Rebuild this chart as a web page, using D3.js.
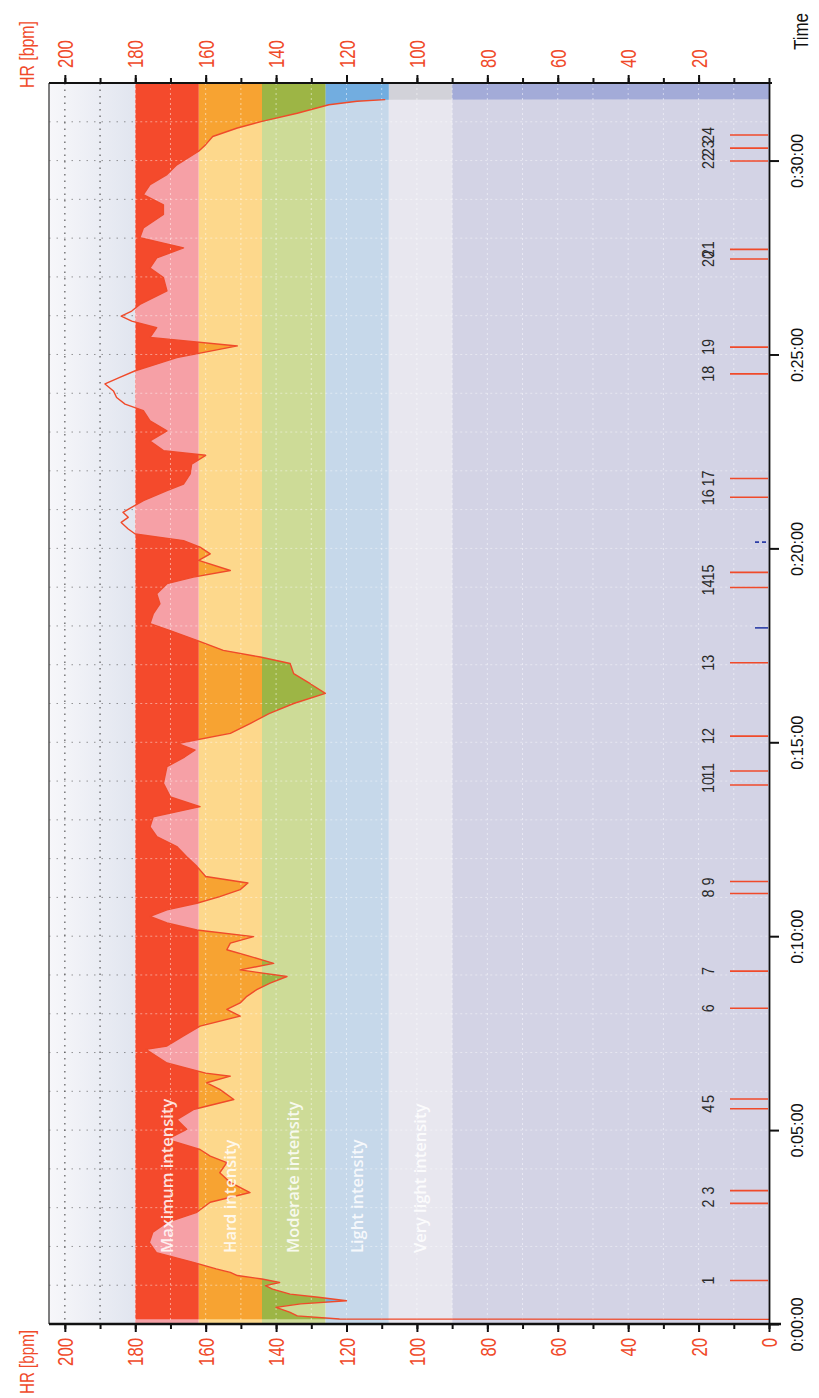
<!DOCTYPE html>
<html>
<head>
<meta charset="utf-8">
<script src="https://cdn.jsdelivr.net/npm/d3@7"></script>
<style>
    body { margin: 0; background: #ffffff; }
    .narrow { font-family: 'Liberation Sans', Arial, sans-serif; }
</style>
</head>
<body>
<div id="chart"></div>
<script>

// heart rate curve (minutes, bpm)
const hrTime = [0.12, 0.13, 0.21, 0.30, 0.43, 0.52, 0.60, 0.69, 0.77, 0.90, 0.99, 1.07, 1.16, 1.25, 1.33, 1.42,
    1.59, 1.84, 2.10, 2.37, 2.62, 2.88, 3.14, 3.39, 3.65, 3.90, 4.16, 4.33, 4.50, 4.76, 5.02, 5.27, 5.53, 5.79,
    6.05, 6.22, 6.39, 6.47, 6.73, 7.08, 7.17, 7.43, 7.68, 7.94, 8.11, 8.28, 8.45, 8.62, 8.79, 8.96, 9.13, 9.30,
    9.48, 9.65, 9.82, 9.99, 10.16, 10.34, 10.51, 10.68, 10.85, 11.02, 11.20, 11.37, 11.54, 11.80, 12.05, 12.31,
    12.57, 12.82, 13.08, 13.34, 13.59, 13.94, 14.37, 14.62, 14.80, 14.97, 15.23, 15.48, 15.74, 16.00, 16.26,
    16.51, 16.77, 17.03, 17.20, 17.37, 17.63, 17.88, 18.06, 18.31, 18.57, 18.83, 19.09, 19.26, 19.43, 19.69,
    19.86, 20.03, 20.20, 20.37, 20.50, 20.67, 20.80, 20.93, 21.23, 21.49, 21.66, 21.92, 22.17, 22.40, 22.52,
    22.77, 23.03, 23.29, 23.55, 23.72, 23.89, 24.06, 24.24, 24.41, 24.58, 24.75, 24.92, 25.22, 25.44, 25.69,
    25.86, 25.99, 26.12, 26.29, 26.64, 26.98, 27.23, 27.49, 27.75, 28.01, 28.26, 28.61, 28.86, 29.12, 29.38,
    29.64, 29.89, 30.24, 30.41, 30.62, 30.84, 31.01, 31.22, 31.44, 31.53, 31.57];
const hrValue = [0, 122, 134, 136, 140, 133, 120, 128, 136, 141, 143, 139, 144, 151, 153, 157,
    163.5, 174, 176, 175, 171, 162.5, 158.7, 147.4, 153, 156, 154, 158.7, 161.6, 171, 165.4, 168.2, 163.5, 152,
    156, 159.7, 153, 160, 171, 177, 171, 166.3, 161.6, 150.2, 154, 150.2, 148.3, 145.5, 141.7, 136.9, 150.2, 140.7,
    147.4, 154, 153, 146.4, 162.5, 171, 175.8, 171, 162.5, 156, 150.2, 148, 160, 162.5, 165.4, 168.2,
    173.9, 175.8, 174.9, 161.6, 170, 172, 171, 166, 163, 168, 153, 147.4, 142, 135, 126,
    130.3, 135, 136, 144.5, 155, 162.5, 170.1, 175.8, 174.9, 173, 173.9, 171, 163.5, 153, 162,
    158.7, 161.6, 166.3, 180, 182, 184, 182, 183.5, 177.7, 171, 166.3, 164.4, 164, 160, 172,
    175.8, 171, 175.8, 177.7, 182.9, 185.3, 186.2, 188.6, 184.4, 180, 174, 168.2, 151, 175.8, 173.9,
    181, 184, 181, 178.7, 171, 172, 175.8, 173.9, 166.3, 178.7, 177.7, 172, 172, 177.7, 175.8,
    171, 168.2, 162, 160, 158, 151, 144, 134, 125, 117, 109];

// recording stops here, nothing after it
const recordEnd = 31.58;

// heart rate zones (bpm), max HR 180
const zoneLow = [0, 90, 108, 126, 144, 162];
const zoneHigh = [90, 108, 126, 144, 162, 180];
const zoneNames = ["", "Very light intensity", "Light intensity", "Moderate intensity", "Hard intensity", "Maximum intensity"];

// laps (minutes)
const lapTimes = [1.12, 3.11, 3.44, 5.55, 5.80, 8.14, 9.10, 11.10, 11.41, 13.90, 14.26, 15.16,
    17.05, 18.99, 19.38, 21.32, 21.80, 24.50, 25.19, 27.46, 27.71, 29.99, 30.32, 30.66];
const lapLabels = lapTimes.map((d, i) => String(i + 1));

// blue marks near the time axis (minutes)
const markTimes = [17.95, 20.16];

// axis ticks
const hrMajor = d3.range(0, 201, 20);
const hrMinor = d3.range(0, 201, 10);
const timeTicks = [0, 5, 10, 15, 20, 25, 30];
const timeLabels = ["0:00:00", "0:05:00", "0:10:00", "0:15:00", "0:20:00", "0:25:00", "0:30:00"];

// colours
const paleColors = ["#d3d3e5", "#e8e7ef", "#c6d8ea", "#cddb97", "#fdd88c", "#f6a0a6"];
const fullColors = ["#a3abd8", "#d2d2d9", "#72ade0", "#9db545", "#f7a332", "#f44a2c"];
const red = "#f04a2a";

let width = 819, height = 1398;
let frame = {left: 49, right: 769, top: 83, bottom: 1324};

let svg = d3.select("#chart").append("svg")
    .attr("width", width)
    .attr("height", height);

// HR runs right to left, time runs bottom to top (page printed sideways)
let x = d3.scaleLinear().domain([0, 204.5]).range([frame.right, frame.left]);
let y = d3.scaleLinear().domain([0, 32]).range([frame.bottom, frame.top]);

let defs = svg.append("defs");
let grad = defs.append("linearGradient").attr("id", "whiteGrad")
    .attr("x1", "0").attr("x2", "1").attr("y1", "0").attr("y2", "0");
grad.append("stop").attr("offset", "0").attr("stop-color", "#f7f7fa");
grad.append("stop").attr("offset", "1").attr("stop-color", "#e1e5ef");

let hrData = hrTime.map((t, i) => ({t: t, hr: hrValue[i]}));
let areaData = hrData.concat([{t: recordEnd, hr: 0}, {t: 32, hr: 0}]);

let area = d3.area()
    .y(d => y(d.t))
    .x0(x(180))
    .x1(d => x(d.hr));

defs.append("clipPath").attr("id", "hrClip")
    .append("path").attr("d", area(areaData));
defs.append("clipPath").attr("id", "plotClip")
    .append("rect")
    .attr("x", frame.left).attr("y", frame.top)
    .attr("width", frame.right - frame.left).attr("height", frame.bottom - frame.top);

// area above max HR
svg.append("rect")
    .attr("x", frame.left).attr("y", frame.top)
    .attr("width", x(180) - frame.left).attr("height", frame.bottom - frame.top)
    .attr("fill", "url(#whiteGrad)");

let zones = zoneLow.map((lo, i) => ({lo: lo, hi: zoneHigh[i], name: zoneNames[i], pale: paleColors[i], full: fullColors[i]}));

// pale zone bands
svg.append("g").selectAll("rect")
    .data(zones)
    .enter().append("rect")
    .attr("x", d => x(d.hi))
    .attr("width", d => x(d.lo) - x(d.hi))
    .attr("y", frame.top)
    .attr("height", frame.bottom - frame.top)
    .attr("fill", d => d.pale);

// saturated bands, only between the curve and max HR
svg.append("g").attr("clip-path", "url(#hrClip)")
    .selectAll("rect")
    .data(zones)
    .enter().append("rect")
    .attr("x", d => x(d.hi))
    .attr("width", d => x(d.lo) - x(d.hi))
    .attr("y", frame.top)
    .attr("height", frame.bottom - frame.top)
    .attr("fill", d => d.full);

// grid
let grid = svg.append("g").attr("clip-path", "url(#plotClip)");
grid.selectAll(".vgrid")
    .data(hrMinor.filter(d => d > 0))
    .enter().append("line")
    .attr("x1", d => x(d)).attr("x2", d => x(d))
    .attr("y1", frame.top).attr("y2", frame.bottom)
    .attr("stroke", d => d > 180 ? "#444" : "#ffffff")
    .attr("stroke-opacity", d => d > 180 ? 0.8 : 0.5)
    .attr("stroke-width", d => d > 180 ? 1.3 : 1)
    .attr("stroke-dasharray", d => d > 180 ? "1.5,5" : "2,3");

let minutes = d3.range(1, 32);
grid.selectAll(".hgridDark")
    .data(minutes)
    .enter().append("line")
    .attr("x1", frame.left).attr("x2", x(180))
    .attr("y1", d => y(d)).attr("y2", d => y(d))
    .attr("stroke", "#555")
    .attr("stroke-opacity", 0.6)
    .attr("stroke-dasharray", "1.5,6");
grid.selectAll(".hgridLight")
    .data(minutes)
    .enter().append("line")
    .attr("x1", x(180)).attr("x2", frame.right)
    .attr("y1", d => y(d)).attr("y2", d => y(d))
    .attr("stroke", "#ffffff")
    .attr("stroke-opacity", 0.45)
    .attr("stroke-dasharray", "2,3");

// HR curve
let line = d3.line()
    .y(d => y(d.t))
    .x(d => x(d.hr));
svg.append("path")
    .datum(hrData)
    .attr("clip-path", "url(#plotClip)")
    .attr("d", line)
    .attr("fill", "none")
    .attr("stroke", red)
    .attr("stroke-width", 1.4)
    .attr("stroke-linejoin", "round");

// zone names
svg.append("g").selectAll("text")
    .data(zones.filter(d => d.name !== ""))
    .enter().append("text")
    .attr("transform", d => `translate(${(x(d.lo) + x(d.hi)) / 2}, 1253) rotate(-90)`)
    .attr("dy", "0.35em")
    .attr("text-anchor", "start")
    .attr("font-family", "'Open Sans', 'Noto Sans', sans-serif")
    .attr("font-size", 16.5)
    .attr("font-weight", 600)
    .attr("fill", "#ffffff")
    .attr("fill-opacity", 0.85)
    .text(d => d.name);

// laps
let laps = lapTimes.map((t, i) => ({t: t, label: lapLabels[i]}));
svg.append("g").selectAll("line")
    .data(laps)
    .enter().append("line")
    .attr("x1", 730).attr("x2", frame.right - 1)
    .attr("y1", d => y(d.t)).attr("y2", d => y(d.t))
    .attr("stroke", red)
    .attr("stroke-width", 1.6);
svg.append("g").selectAll("text")
    .data(laps)
    .enter().append("text")
    .attr("class", "narrow")
    .attr("transform", d => `translate(708, ${y(d.t)}) rotate(-90)`)
    .attr("text-anchor", "middle")
    .attr("dy", "0.35em")
    .attr("font-size", 16)
    .attr("textLength", d => 8 * d.label.length)
    .attr("lengthAdjust", "spacingAndGlyphs")
    .attr("fill", "#2a2a2a")
    .text(d => d.label);

svg.append("g").selectAll("line")
    .data(markTimes)
    .enter().append("line")
    .attr("x1", 755).attr("x2", frame.right - 1)
    .attr("y1", d => y(d)).attr("y2", d => y(d))
    .attr("stroke", "#2b3da6")
    .attr("stroke-width", 1.6)
    .attr("stroke-dasharray", (d, i) => i === 1 ? "4,3" : null);

// frame left edge
svg.append("line")
    .attr("x1", frame.left).attr("x2", frame.left)
    .attr("y1", frame.top).attr("y2", frame.bottom)
    .attr("stroke", "#555").attr("stroke-width", 1.5);

// HR axes, bottom and top
function styleAxis(g) {
    g.select(".domain").remove();
    g.selectAll(".tick line").attr("stroke", "#111").attr("stroke-width", 2);
}

function styleHrLabels(sel, anchor, offset) {
    sel.attr("class", "narrow")
        .attr("transform", "rotate(-90)")
        .attr("x", offset).attr("y", 0).attr("dy", "0.35em")
        .attr("text-anchor", anchor)
        .attr("font-size", 22)
        .attr("textLength", d => 9.3 * String(d).length)
        .attr("lengthAdjust", "spacingAndGlyphs")
        .attr("fill", red);
}

svg.append("g")
    .attr("transform", `translate(0, ${frame.bottom})`)
    .call(d3.axisBottom(x).tickValues(hrMinor).tickSize(5).tickFormat(""))
    .call(styleAxis);
let bottomMajor = svg.append("g")
    .attr("transform", `translate(0, ${frame.bottom})`)
    .call(d3.axisBottom(x).tickValues(hrMajor).tickSize(8))
    .call(styleAxis);
bottomMajor.selectAll("text").call(styleHrLabels, "end", -14);

svg.append("g")
    .attr("transform", `translate(0, ${frame.top})`)
    .call(d3.axisTop(x).tickValues(hrMinor).tickSize(5).tickFormat(""))
    .call(styleAxis);
let topMajor = svg.append("g")
    .attr("transform", `translate(0, ${frame.top})`)
    .call(d3.axisTop(x).tickValues(hrMajor.filter(d => d > 0)).tickSize(8))
    .call(styleAxis);
topMajor.selectAll("text").call(styleHrLabels, "start", 15);

svg.append("line")
    .attr("x1", frame.left).attr("x2", frame.right + 12)
    .attr("y1", frame.bottom).attr("y2", frame.bottom)
    .attr("stroke", "#111").attr("stroke-width", 2.5);
svg.append("line")
    .attr("x1", frame.left).attr("x2", frame.right + 3)
    .attr("y1", frame.top).attr("y2", frame.top)
    .attr("stroke", "#111").attr("stroke-width", 2);

// time axis on the right
let timeAxis = svg.append("g")
    .attr("transform", `translate(${frame.right}, 0)`)
    .call(d3.axisRight(y).tickValues(timeTicks).tickSize(10).tickSizeOuter(0)
        .tickFormat((d, i) => timeLabels[i]));
timeAxis.select(".domain").attr("stroke", "#111").attr("stroke-width", 1.8);
timeAxis.selectAll(".tick line").attr("stroke", "#111").attr("stroke-width", 2);
timeAxis.selectAll("text")
    .attr("class", "narrow")
    .attr("transform", "translate(28, 0) rotate(-90)")
    .attr("x", 0).attr("y", 0).attr("dy", "0.35em")
    .attr("text-anchor", "middle")
    .attr("font-size", 17)
    .attr("textLength", 54)
    .attr("lengthAdjust", "spacingAndGlyphs")
    .attr("fill", "#111");

// axis titles
svg.append("text")
    .attr("class", "narrow")
    .attr("transform", "translate(27, 88) rotate(-90)")
    .attr("dy", "0.35em")
    .attr("font-size", 20)
    .attr("textLength", 67)
    .attr("lengthAdjust", "spacingAndGlyphs")
    .attr("fill", red)
    .text("HR [bpm]");
svg.append("text")
    .attr("class", "narrow")
    .attr("transform", "translate(27, 1330) rotate(-90)")
    .attr("dy", "0.35em")
    .attr("text-anchor", "end")
    .attr("font-size", 20)
    .attr("textLength", 64)
    .attr("lengthAdjust", "spacingAndGlyphs")
    .attr("fill", red)
    .text("HR [bpm]");
svg.append("text")
    .attr("class", "narrow")
    .attr("transform", "translate(801, 50) rotate(-90)")
    .attr("dy", "0.35em")
    .attr("font-size", 21)
    .attr("textLength", 37)
    .attr("lengthAdjust", "spacingAndGlyphs")
    .attr("fill", "#111")
    .text("Time");

</script>
</body>
</html>
